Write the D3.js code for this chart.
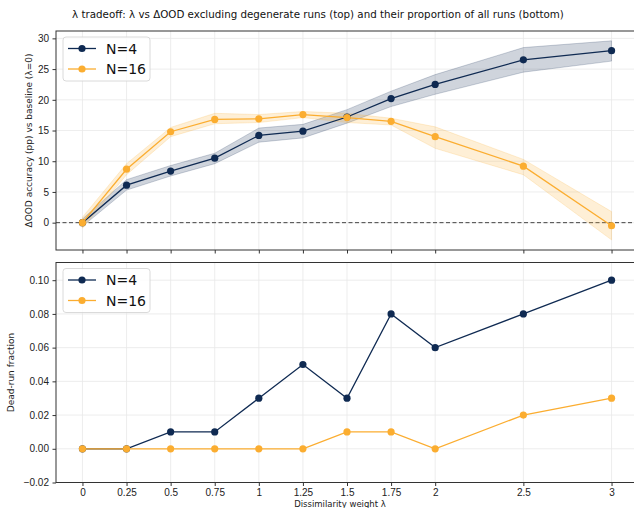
<!DOCTYPE html>
<html>
<head>
<meta charset="utf-8">
<script src="https://cdn.jsdelivr.net/npm/d3@7"></script>
<style>
  body { margin: 0; background: #fff; }
  svg { display: block; font-family: "DejaVu Sans", sans-serif; }
  .tick text { font-size: 10px; fill: #222; }
</style>
</head>
<body>
<svg id="chart"></svg>
<script>
const lambdas = [0, 0.25, 0.5, 0.75, 1, 1.25, 1.5, 1.75, 2, 2.5, 3];
const tickLabels = ['0', '0.25', '0.5', '0.75', '1', '1.25', '1.5', '1.75', '2', '2.5', '3'];

// top panel: delta OOD (pp) with band
const oodN4 = [0, 6.1, 8.4, 10.5, 14.2, 14.9, 17.2, 20.2, 22.5, 26.5, 28.0];
const oodN4Lo = [-0.6, 5.3, 7.6, 9.6, 13.1, 13.8, 16.2, 18.9, 20.9, 24.5, 26.3];
const oodN4Hi = [0.6, 7.0, 9.3, 11.3, 15.4, 16.0, 18.4, 21.4, 24.1, 28.5, 29.6];
const oodN16 = [0, 8.7, 14.8, 16.8, 16.9, 17.6, 17.1, 16.5, 14.0, 9.2, -0.5];
const oodN16Lo = [-0.9, 7.8, 14.0, 16.1, 16.3, 17.1, 16.3, 15.9, 12.1, 7.8, -2.8];
const oodN16Hi = [0.9, 9.6, 15.5, 17.8, 17.6, 18.1, 17.8, 17.0, 15.6, 10.3, 1.8];

// bottom panel: dead-run fraction
const deadN4 = [0, 0, 0.01, 0.01, 0.03, 0.05, 0.03, 0.08, 0.06, 0.08, 0.10];
const deadN16 = [0, 0, 0, 0, 0, 0, 0.01, 0.01, 0, 0.02, 0.03];

const topTicks = [0, 5, 10, 15, 20, 25, 30];
const bottomTicks = [-0.02, 0, 0.02, 0.04, 0.06, 0.08, 0.10];

const navy = '#0f2a52';
const orange = '#fbad30';

const width = 634;
const height = 508;
const left = 56;
const right = 638;

const svg = d3.select('#chart').attr('width', width).attr('height', height);

const x = d3.scaleLinear().domain([-0.15, 3.15]).range([left, right]);

svg.append('text')
  .attr('x', 318)
  .attr('y', 18)
  .attr('text-anchor', 'middle')
  .style('font-size', '10.3px')
  .style('fill', '#111')
  .text('λ tradeoff: λ vs ΔOOD excluding degenerate runs (top) and their proportion of all runs (bottom)');

function panel(top, bottom, yDomain, yTicks, yFormat, series, ylabel, ylabelX, showXLabels) {
  const y = d3.scaleLinear().domain(yDomain).range([bottom, top]);
  const g = svg.append('g');

  // grid
  g.append('g').selectAll('line').data(lambdas).enter().append('line')
    .attr('x1', d => x(d)).attr('x2', d => x(d))
    .attr('y1', top).attr('y2', bottom)
    .attr('stroke', '#e8e8e8').attr('stroke-width', 0.8);
  g.append('g').selectAll('line').data(yTicks).enter().append('line')
    .attr('x1', left).attr('x2', right)
    .attr('y1', d => y(d)).attr('y2', d => y(d))
    .attr('stroke', '#e8e8e8').attr('stroke-width', 0.8);

  const xAxis = d3.axisBottom(x).tickValues(lambdas).tickSize(3.5).tickPadding(3)
    .tickFormat((d, i) => showXLabels ? tickLabels[i] : '');
  g.append('g').attr('transform', `translate(0,${bottom})`).call(xAxis)
    .call(a => a.select('.domain').remove())
    .call(a => a.selectAll('.tick line').attr('stroke', '#333'));

  const yAxis = d3.axisLeft(y).tickValues(yTicks).tickSize(3.5).tickPadding(3.5).tickFormat(yFormat);
  g.append('g').attr('transform', `translate(${left},0)`).call(yAxis)
    .call(a => a.select('.domain').remove())
    .call(a => a.selectAll('.tick line').attr('stroke', '#333'));

  if (series[0].lo) {
    g.append('line')
      .attr('x1', left).attr('x2', right)
      .attr('y1', y(0)).attr('y2', y(0))
      .attr('stroke', '#444').attr('stroke-width', 1)
      .attr('stroke-dasharray', '4,2.5');
  }

  series.forEach(s => {
    if (s.lo) {
      const area = d3.area()
        .x((d, i) => x(lambdas[i]))
        .y0((d, i) => y(s.lo[i]))
        .y1((d, i) => y(s.hi[i]));
      g.append('path').datum(s.values).attr('d', area)
        .attr('fill', s.color).attr('fill-opacity', 0.2)
        .attr('stroke', s.color).attr('stroke-opacity', 0.25).attr('stroke-width', 0.8);
    }
  });

  series.forEach(s => {
    const line = d3.line().x((d, i) => x(lambdas[i])).y(d => y(d));
    g.append('path').datum(s.values).attr('d', line)
      .attr('fill', 'none').attr('stroke', s.color).attr('stroke-width', 1.3);
    g.selectAll(null).data(s.values).enter().append('circle')
      .attr('cx', (d, i) => x(lambdas[i]))
      .attr('cy', d => y(d))
      .attr('r', 3.6)
      .attr('fill', s.color);
  });

  g.append('rect')
    .attr('x', left).attr('y', top)
    .attr('width', right - left).attr('height', bottom - top)
    .attr('fill', 'none').attr('stroke', '#333').attr('stroke-width', 1);

  g.append('text')
    .attr('transform', `translate(${ylabelX},${(top + bottom) / 2}) rotate(-90)`)
    .attr('text-anchor', 'middle')
    .style('font-size', '9px')
    .style('fill', '#222')
    .text(ylabel);

  // legend
  const lg = g.append('g').attr('transform', `translate(63,${top + 6})`);
  lg.append('rect')
    .attr('width', 87).attr('height', 44).attr('rx', 3)
    .attr('fill', '#fff').attr('fill-opacity', 0.8)
    .attr('stroke', '#d0d0d0').attr('stroke-width', 0.8);
  series.forEach((s, i) => {
    const ly = 11.5 + i * 20.5;
    lg.append('line').attr('x1', 5).attr('x2', 33).attr('y1', ly).attr('y2', ly)
      .attr('stroke', s.color).attr('stroke-width', 1.3);
    lg.append('circle').attr('cx', 19).attr('cy', ly).attr('r', 3.6).attr('fill', s.color);
    lg.append('text').attr('x', 43).attr('y', ly + 5)
      .style('font-size', '14px').style('fill', '#111')
      .text(s.name);
  });
}

panel(31, 250, [-4.45, 31.2], topTicks, d3.format('d'), [
  { name: 'N=4', values: oodN4, lo: oodN4Lo, hi: oodN4Hi, color: navy },
  { name: 'N=16', values: oodN16, lo: oodN16Lo, hi: oodN16Hi, color: orange }
], 'ΔOOD accuracy (pp) vs baseline (λ=0)', 32, false);

panel(262.5, 482.5, [-0.02, 0.1105], bottomTicks, d => d3.format('.2f')(d).replace('-', '−'), [
  { name: 'N=4', values: deadN4, color: navy },
  { name: 'N=16', values: deadN16, color: orange }
], 'Dead-run fraction', 14, true);

svg.append('text')
  .attr('x', 340)
  .attr('y', 506.5)
  .attr('text-anchor', 'middle')
  .style('font-size', '8.5px')
  .style('fill', '#222')
  .text('Dissimilarity weight λ');
</script>
</body>
</html>
